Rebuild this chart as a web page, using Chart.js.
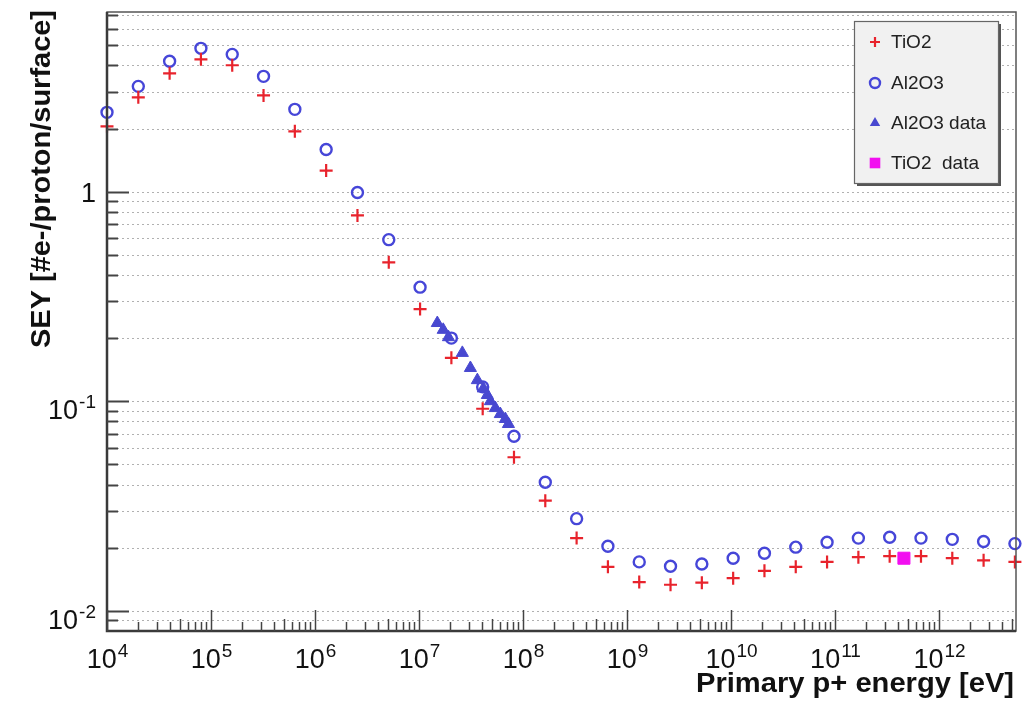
<!DOCTYPE html>
<html><head><meta charset="utf-8">
<script src="https://cdn.jsdelivr.net/npm/chart.js@4/dist/chart.umd.min.js"></script>
<style>html,body{margin:0;padding:0;background:#fff}#wrap{position:relative;width:1023px;height:702px}canvas{display:block}</style>
</head><body><div id="wrap"><canvas id="c" width="1023" height="702"></canvas></div>
<script>
// ---- data ----
const energyEV = [1e4, 2e4, 4e4, 8e4, 1.6e5, 3.2e5, 6.4e5, 1.28e6, 2.56e6, 5.12e6,
  1.024e7, 2.048e7, 4.096e7, 8.192e7, 1.638e8, 3.277e8, 6.554e8, 1.311e9, 2.621e9, 5.243e9,
  1.049e10, 2.097e10, 4.194e10, 8.389e10, 1.678e11, 3.355e11, 6.711e11, 1.342e12, 2.684e12, 5.369e12];
const tio2SEY = [2.05, 2.82, 3.67, 4.28, 4.01, 2.88, 1.94, 1.26, 0.77, 0.46,
  0.275, 0.161, 0.092, 0.054, 0.0335, 0.0222, 0.0162, 0.0137, 0.0133, 0.0136,
  0.0143, 0.0155, 0.0162, 0.0171, 0.0180, 0.0182, 0.0182, 0.0178, 0.0174, 0.0171];
const al2o3SEY = [2.39, 3.18, 4.19, 4.83, 4.52, 3.55, 2.47, 1.59, 0.99, 0.59,
  0.35, 0.20, 0.117, 0.068, 0.041, 0.0275, 0.0203, 0.0171, 0.0163, 0.0167,
  0.0178, 0.0188, 0.0201, 0.0212, 0.0222, 0.0224, 0.0222, 0.0219, 0.0214, 0.0209];
const al2o3DataEnergy = [1.50e7, 1.71e7, 1.92e7, 2.61e7, 3.12e7, 3.64e7, 4.16e7, 4.54e7, 4.86e7, 5.42e7, 6.05e7, 6.76e7, 7.24e7];
const al2o3DataSEY = [0.236, 0.219, 0.202, 0.170, 0.144, 0.126, 0.115, 0.107, 0.100, 0.0927, 0.0868, 0.0822, 0.0778];
const tio2DataEnergy = [4.6e11];
const tio2DataSEY = [0.0178];
const xTickExponents = [4, 5, 6, 7, 8, 9, 10, 11, 12];
const yTickValues = [1, 0.1, 0.01];
const yTickBases = ['1', '10', '10'];
const yTickExps = ['', '-1', '-2'];
const seriesNames = ['TiO2', 'Al2O3', 'Al2O3 data', 'TiO2  data'];
const xTitle = 'Primary p+ energy [eV]';
const yTitle = 'SEY [#e-/proton/surface]';

const RED = '#e8232c', BLUE = '#4646d8', TRI = '#4848d0', MAG = '#f20ff0';

function pts(xs, ys) { return xs.map((x, i) => ({x: x, y: ys[i]})); }

function drawMarker(ctx, style, x, y, r, color, filled, bw) {
  ctx.save();
  ctx.strokeStyle = color; ctx.fillStyle = color; ctx.lineWidth = bw;
  ctx.beginPath();
  if (style === 'cross') {
    ctx.moveTo(x - r, y); ctx.lineTo(x + r, y); ctx.moveTo(x, y - r); ctx.lineTo(x, y + r); ctx.stroke();
  } else if (style === 'circle') {
    ctx.arc(x, y, r, 0, Math.PI * 2); ctx.stroke();
  } else if (style === 'triangle') {
    ctx.moveTo(x, y - r); ctx.lineTo(x + 0.866 * r, y + 0.5 * r); ctx.lineTo(x - 0.866 * r, y + 0.5 * r); ctx.closePath(); ctx.fill();
  } else if (style === 'rect') {
    const s = r * Math.SQRT1_2; ctx.rect(x - s, y - s, 2 * s, 2 * s); ctx.fill();
  }
  ctx.restore();
}

const decor = {
  id: 'decor',
  beforeDatasetsDraw(chart) {
    const {ctx, chartArea: a, scales: {x, y}} = chart;
    ctx.save();
    ctx.strokeStyle = 'rgba(80,80,80,0.45)'; ctx.lineWidth = 1; ctx.setLineDash([2, 3]);
    for (let k = -3; k <= 0; k++) for (let m = 1; m <= 9; m++) {
      const v = m * Math.pow(10, k);
      if (v <= y.min * 1.001 || v >= y.max) continue;
      const py = Math.round(y.getPixelForValue(v)) + 0.5;
      ctx.beginPath(); ctx.moveTo(a.left, py); ctx.lineTo(a.right, py); ctx.stroke();
    }
    ctx.restore();
  },
  afterDatasetsDraw(chart) {
    const {ctx, chartArea: a, scales: {x, y}} = chart;
    ctx.save();
    // frame
    ctx.strokeStyle = '#555'; ctx.lineWidth = 1.5;
    ctx.strokeRect(a.left, a.top, a.right - a.left, a.bottom - a.top);
    ctx.strokeStyle = '#3a3a3a'; ctx.lineWidth = 2.5;
    ctx.beginPath(); ctx.moveTo(a.left, a.top); ctx.lineTo(a.left, a.bottom); ctx.lineTo(a.right, a.bottom); ctx.stroke();
    // y ticks
    ctx.lineWidth = 2; ctx.strokeStyle = '#444';
    for (let k = -3; k <= 0; k++) for (let m = 1; m <= 9; m++) {
      const v = m * Math.pow(10, k);
      if (v <= y.min || v >= y.max) continue;
      const py = Math.round(y.getPixelForValue(v)) + 0.5;
      const len = m === 1 ? 22 : 11;
      ctx.beginPath(); ctx.moveTo(a.left, py); ctx.lineTo(a.left + len, py); ctx.stroke();
    }
    // x ticks
    ctx.lineWidth = 1.5;
    for (let k = 4; k <= 12; k++) for (let m = 1; m <= 9; m++) {
      const v = m * Math.pow(10, k);
      if (v < x.min || v > x.max) continue;
      const px = Math.round(x.getPixelForValue(v)) + 0.5;
      const len = m === 1 ? 21 : (m === 5 ? 12 : 9);
      ctx.beginPath(); ctx.moveTo(px, a.bottom); ctx.lineTo(px, a.bottom - len); ctx.stroke();
    }
    // x tick labels
    ctx.fillStyle = '#111'; ctx.textBaseline = 'alphabetic'; ctx.textAlign = 'left';
    xTickExponents.forEach(e => {
      const px = x.getPixelForValue(Math.pow(10, e));
      ctx.font = '27px "Liberation Sans", Arial, sans-serif';
      const wb = ctx.measureText('10').width;
      ctx.font = '19px "Liberation Sans", Arial, sans-serif';
      const we = ctx.measureText(String(e)).width;
      const x0 = px - (wb + we) / 2;
      ctx.font = '27px "Liberation Sans", Arial, sans-serif';
      ctx.fillText('10', x0, 668);
      ctx.font = '19px "Liberation Sans", Arial, sans-serif';
      ctx.fillText(String(e), x0 + wb + 1, 657);
    });
    // y tick labels
    yTickValues.forEach((v, i) => {
      const py = y.getPixelForValue(v);
      const right = 96;
      if (!yTickExps[i]) {
        ctx.font = '27px "Liberation Sans", Arial, sans-serif';
        ctx.textAlign = 'right';
        ctx.fillText(yTickBases[i], right, py + 10);
        ctx.textAlign = 'left';
      } else {
        ctx.font = '19px "Liberation Sans", Arial, sans-serif';
        const we = ctx.measureText(yTickExps[i]).width;
        ctx.font = '27px "Liberation Sans", Arial, sans-serif';
        const wb = ctx.measureText(yTickBases[i]).width;
        const x0 = right - we - wb - 1;
        ctx.fillText(yTickBases[i], x0, py + 18);
        ctx.font = '19px "Liberation Sans", Arial, sans-serif';
        ctx.fillText(yTickExps[i], x0 + wb + 1, py + 7);
      }
    });
    // axis titles
    ctx.font = 'bold 27px "Liberation Sans", Arial, sans-serif';
    let w = ctx.measureText(xTitle).width;
    ctx.save();
    ctx.translate(1014, 692);
    ctx.scale(318 / w, 1);
    ctx.textAlign = 'right';
    ctx.fillText(xTitle, 0, 0);
    ctx.restore();
    ctx.font = 'bold 28px "Liberation Sans", Arial, sans-serif';
    w = ctx.measureText(yTitle).width;
    ctx.save();
    ctx.translate(50, 10);
    ctx.rotate(-Math.PI / 2);
    ctx.scale(338 / w, 1);
    ctx.textAlign = 'right';
    ctx.fillText(yTitle, 0, 0);
    ctx.restore();
    ctx.restore();
  },
  afterDraw(chart) {
    const ctx = chart.ctx;
    ctx.save();
    const L = 854, T = 21, R = 998, B = 183;
    ctx.fillStyle = '#555';
    ctx.fillRect(L + 3, T + 3, R - L, B - T);
    ctx.fillStyle = '#f1f1f1';
    ctx.fillRect(L, T, R - L, B - T);
    ctx.strokeStyle = '#666'; ctx.lineWidth = 1.2;
    ctx.strokeRect(L + 0.5, T + 0.5, R - L, B - T);
    const rows = [42, 83, 123, 163];
    chart.data.datasets.forEach((ds, i) => {
      drawMarker(ctx, ds.pointStyle, 875, rows[i], ds.legendR, ds.borderColor, true, ds.borderWidth);
      ctx.fillStyle = '#222';
      ctx.font = '19px "Liberation Sans", Arial, sans-serif';
      ctx.textAlign = 'left'; ctx.textBaseline = 'middle';
      ctx.fillText(ds.label, 891, rows[i] + 1);
    });
    ctx.restore();
  }
};

new Chart(document.getElementById('c'), {
  type: 'scatter',
  data: {
    datasets: [
      {label: seriesNames[0], data: pts(energyEV, tio2SEY), pointStyle: 'cross', pointRadius: 6.5, borderColor: RED, backgroundColor: RED, borderWidth: 2.2, legendR: 5, clip: false, order: 3},
      {label: seriesNames[1], data: pts(energyEV, al2o3SEY), pointStyle: 'circle', pointRadius: 5.5, borderColor: BLUE, backgroundColor: 'rgba(0,0,0,0)', borderWidth: 2.4, legendR: 5, clip: false, order: 4},
      {label: seriesNames[2], data: pts(al2o3DataEnergy, al2o3DataSEY), pointStyle: 'triangle', pointRadius: 7, borderColor: TRI, backgroundColor: TRI, borderWidth: 1, legendR: 6, clip: false, order: 1},
      {label: seriesNames[3], data: pts(tio2DataEnergy, tio2DataSEY), pointStyle: 'rect', pointRadius: 8.5, borderColor: MAG, backgroundColor: MAG, borderWidth: 1, legendR: 7.5, clip: false, order: 0}
    ]
  },
  options: {
    responsive: false,
    animation: false,
    devicePixelRatio: 1,
    layout: {padding: {left: 107, right: 7, top: 12, bottom: 71}, autoPadding: false},
    plugins: {legend: {display: false}, tooltip: {enabled: false}},
    scales: {
      x: {type: 'logarithmic', min: 1e4, max: 5.5e12, display: false},
      y: {type: 'logarithmic', min: 0.008, max: 7.2, display: false}
    }
  },
  plugins: [decor]
});
</script>
</body></html>
